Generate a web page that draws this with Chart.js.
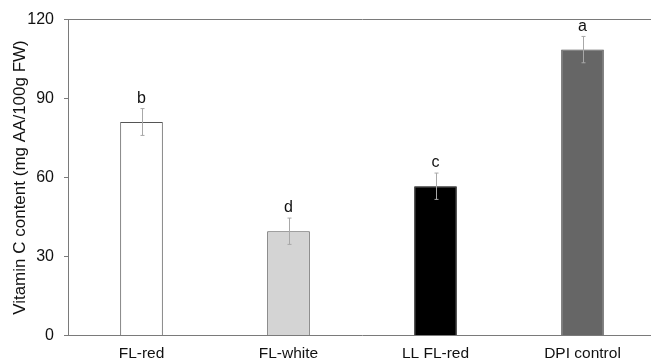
<!DOCTYPE html>
<html>
<head>
<meta charset="utf-8">
<script src="https://cdn.jsdelivr.net/npm/chart.js@4"></script>
<style>
html, body { margin: 0; padding: 0; background: #fff; overflow: hidden; }
</style>
</head>
<body>
<canvas id="vitcChart" width="656" height="363"></canvas>
<script>
const categories = ['FL-red', 'FL-white', 'LL FL-red', 'DPI control'];
const vitaminC = [81.1, 39.6, 56.7, 108.6];
const errors = [5.1, 5.0, 5.0, 5.0];
const letters = ['b', 'd', 'c', 'a'];
const yTicks = [0, 30, 60, 90, 120];

const fillColors = ['#ffffff', '#d4d4d4', '#000000', '#666666'];
const edgeColors = ['#555555', '#555555', '#000000', '#444444'];
const fontFamily = "'Liberation Sans', Arial, sans-serif";

// error bars + significance letters, drawn through the scales
const errorBarPlugin = {
    id: 'errorBars',
    afterDatasetsDraw(chart) {
        const ctx = chart.ctx;
        const yScale = chart.scales.y;
        const meta = chart.getDatasetMeta(0);
        ctx.save();
        meta.data.forEach((bar, i) => {
            const x = Math.round(bar.x) + 0.5;
            const top = yScale.getPixelForValue(vitaminC[i] + errors[i]);
            const bottom = yScale.getPixelForValue(vitaminC[i] - errors[i]);
            ctx.strokeStyle = '#a8a8a8';
            ctx.lineWidth = 1;
            ctx.beginPath();
            ctx.moveTo(x, top);
            ctx.lineTo(x, bottom);
            ctx.moveTo(x - 2, top);
            ctx.lineTo(x + 2, top);
            ctx.moveTo(x - 2, bottom);
            ctx.lineTo(x + 2, bottom);
            ctx.stroke();

            ctx.fillStyle = '#111';
            ctx.font = '16px ' + fontFamily;
            ctx.textAlign = 'center';
            ctx.textBaseline = 'bottom';
            ctx.fillText(letters[i], bar.x, top - 2);
        });
        ctx.restore();
    }
};

const ctxVitC = document.getElementById('vitcChart').getContext('2d');
new Chart(ctxVitC, {
    type: 'bar',
    data: {
        labels: categories,
        datasets: [{
            label: 'Vitamin C',
            data: vitaminC,
            backgroundColor: fillColors,
            borderColor: edgeColors,
            borderWidth: 1,
            barPercentage: 0.29,
            categoryPercentage: 1
        }]
    },
    options: {
        responsive: false,
        animation: false,
        layout: {
            padding: { top: 19, right: 0, bottom: 0, left: 0 }
        },
        plugins: {
            legend: { display: false },
            tooltip: { enabled: false }
        },
        scales: {
            x: {
                grid: { display: true, drawOnChartArea: false, drawTicks: false },
                border: { display: true, color: '#7a7a7a', width: 1 },
                ticks: {
                    color: '#111',
                    padding: 9,
                    font: { family: fontFamily, size: 15.5 }
                },
                afterFit: function (scale) { scale.height = 27.5; }
            },
            y: {
                min: 0,
                max: 120,
                afterBuildTicks: function (axis) {
                    axis.ticks = yTicks.map(v => ({ value: v }));
                },
                grid: {
                    color: ctx => (ctx.tick && ctx.tick.value === 120) ? '#7a7a7a' : 'rgba(0,0,0,0)',
                    tickColor: '#7a7a7a',
                    tickLength: 4
                },
                border: { display: true, color: '#7a7a7a', width: 1 },
                ticks: {
                    color: '#111',
                    padding: 10,
                    font: { family: fontFamily, size: 16 }
                },
                title: {
                    display: true,
                    text: 'Vitamin C content (mg AA/100g FW)',
                    color: '#111',
                    padding: { top: 10, bottom: 0 },
                    font: { family: fontFamily, size: 17 }
                },
                afterFit: function (scale) { scale.width = 68; }
            }
        }
    },
    plugins: [errorBarPlugin]
});
</script>
</body>
</html>
